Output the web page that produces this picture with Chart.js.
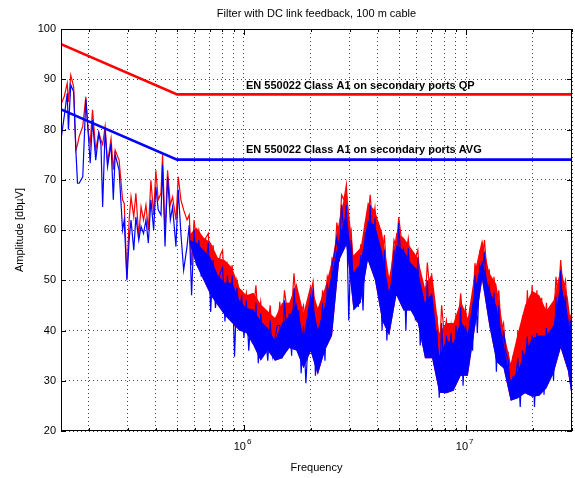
<!DOCTYPE html>
<html>
<head>
<meta charset="utf-8">
<script src="https://cdn.jsdelivr.net/npm/chart.js@4.4.1/dist/chart.umd.min.js"></script>
<style>
  html, body { margin: 0; padding: 0; background: #fff; }
  canvas { display: block; }
</style>
</head>
<body>
<canvas id="chartEmi" width="575" height="478"></canvas>
<script>
// emiChart - espectro conducido con límites EN 55022 (Chart.js)

// Frecuencias de barrido (kHz)
const freqKHz = [
  150, 155, 160, 162, 166, 171, 175, 178, 181, 188,
  194, 199, 203, 208, 215, 222, 227, 231, 237, 243,
  252, 258, 263, 274, 284, 289, 297, 304, 310, 319,
  326, 336, 344, 353, 362, 371, 381, 392, 401, 411,
  423, 430, 441, 453, 466, 477, 494, 506, 520, 535,
  554,
  567, 581, 596, 611, 626, 642, 658, 674, 691, 708,
  726, 744, 763, 782, 801, 821, 842, 863, 885, 907,
  929, 953, 976, 1000, 1025, 1051, 1077, 1104, 1132, 1160,
  1189, 1219, 1249, 1280, 1312, 1345, 1379, 1413, 1449, 1485,
  1522, 1560, 1599, 1639, 1680, 1722, 1765, 1809, 1854, 1900,
  1948, 1997, 2047, 2098, 2150, 2204, 2259, 2316, 2373, 2433,
  2493, 2556, 2620, 2685, 2752, 2821, 2892, 2964, 3038, 3114,
  3192, 3272, 3353, 3437, 3523, 3611, 3701, 3794, 3889, 3986,
  4086, 4188, 4292, 4400, 4510, 4622, 4738, 4856, 4978, 5102,
  5230, 5360, 5494, 5632, 5772, 5917, 6065, 6216, 6372, 6531,
  6694, 6862, 7033, 7209, 7389, 7574, 7763, 7957, 8156, 8360,
  8569, 8783, 9003, 9228, 9459, 9695, 9938, 10186, 10441, 10702,
  10969, 11244, 11525, 11813, 12108, 12411, 12721, 13039, 13365, 13699,
  14042, 14393, 14753, 15122, 15500, 15887, 16284, 16691, 17109, 17536,
  17975, 18424, 18885, 19357, 19841, 20337, 20845, 21367, 21901, 22448,
  23010, 23585, 24174, 24779, 25398, 26033, 26684, 27351, 28035, 28736,
  29454, 30000
];

// Nivel cuasi-pico (rojo), dBµV
const qpLevel = [
  85, 86.5, 89.2, 85.5, 90.8, 88.5, 75.9, 77, 78.6, 80.6,
  86.5, 79.5, 77.2, 83.9, 75.9, 79.5, 77.9, 77, 80.6, 73.3,
  78.2, 72, 75.9, 73.9, 66, 65.3, 50.7, 62, 66.6, 62.6,
  67.3, 58.7, 64.6, 62, 65, 60, 69.9, 63, 71.9, 66,
  67.3, 75, 59.3, 71.9, 65, 66.6, 62, 70.6, 66, 64,
  62,
  63, 53, 62, 58, 60, 56.7, 57, 58.5, 59.3, 49.7,
  57, 50.5, 52, 55, 56, 47.8, 53, 50, 53, 40.8,
  50, 48, 48, 44.5, 47.5, 43.4, 46.5, 43.7, 49, 42,
  45.7, 40, 42, 40, 45, 38, 42, 38, 45.7, 41,
  48, 44.4, 45, 44, 51.4, 45, 46.5, 43.7, 45, 37.5,
  42.7, 47, 49.7, 42, 42, 40.5, 48, 44.5, 50.7, 49,
  54.4, 53.7, 61.5, 58, 67, 66, 69, 58.5, 60, 51,
  54, 50, 57, 56.5, 61.5, 61.6, 67, 61, 64.4, 58,
  58.5, 55, 59, 49.5, 50, 52, 58, 56.5, 62.6, 58.5,
  58, 55, 58.3, 53, 53.7, 54.4, 56, 49.5, 49, 45,
  53.5, 48, 49, 39.5, 43, 34.5, 45, 39.7, 42, 36,
  41, 37, 43, 41.7, 47.4, 41.5, 44.5, 39, 44.5, 44,
  53.4, 50, 55.5, 53.7, 58, 51.5, 52, 45, 50.7, 44.4,
  48, 40, 41.5, 34.5, 35.5, 30, 35, 30.5, 40, 33,
  43, 35.5, 48, 37, 49, 37.5, 48, 37.5, 46.5, 38,
  45.5, 37.5, 44.7, 40.5, 50.7, 46.5, 54, 48, 50, 42.5,
  43, 37
];

// Nivel promedio (azul), dBµV
const avgLevel = [
  78, 82.5, 87.2, 80, 88.9, 87.5, 75.9, 69.3, 69.3, 70.6,
  86, 79.2, 73.3, 81.9, 73.9, 79.2, 77, 64.6, 80, 72.6,
  77.2, 66, 75, 71.9, 60, 62, 50, 58, 62, 56,
  62.6, 58, 60.7, 59.3, 62, 57.4, 66, 60, 68.6, 64,
  63, 73, 56.7, 70.6, 62, 64.6, 56.7, 68, 59.3, 52,
  56.7,
  61, 47, 60, 53, 58, 50.7, 55.5, 53, 57.5, 43.7,
  54, 44.5, 49.4, 51.5, 52.5, 41.8, 51, 44, 51, 34.8,
  48.5, 43, 47, 38.5, 46, 36, 43.5, 38.5, 45.5, 33.5,
  43.4, 38, 39, 34, 42, 35, 38.5, 41, 41, 34.5,
  46, 38, 43.4, 35, 48.4, 40, 44, 31.5, 41, 29.5,
  38.5, 37.8, 48.4, 31, 38.7, 38, 45.5, 34, 49.4, 40.8,
  53, 55, 58.5, 53.7, 65, 59, 65, 42, 58, 48,
  51.5, 44.7, 55, 44, 59.5, 56, 65, 52, 62.4, 50,
  55.5, 40, 56, 38, 48, 48, 56, 47, 61.4, 52.7,
  56.5, 40, 56.4, 48, 51.7, 42, 54.5, 37, 47, 36.5,
  50, 35, 46, 34.8, 40, 26.6, 41.5, 30.5, 39, 34.8,
  39.5, 29.5, 41, 34, 44.6, 29, 41, 36, 42, 36,
  51, 39.5, 53, 51.7, 55.5, 46, 49, 41.5, 47.5, 31.8,
  45, 33, 40, 35.6, 34, 27.2, 30.8, 30.2, 34.5, 24.8,
  36, 33, 38.8, 27.5, 39, 24.8, 39.5, 30, 38.5, 27.2,
  40.5, 35.5, 39, 30, 46.7, 35.5, 52, 42.5, 47, 32.5,
  42, 24.8
];

// Envolventes de la zona densa (kHz / dBµV)
const bandFreqKHz = [
  567, 611, 658, 708, 763, 821, 885, 953, 1025,
  1104, 1189, 1280, 1379, 1485, 1599, 1722, 1854, 1997,
  2150, 2316, 2493, 2685, 2892, 3114, 3353, 3611, 3889,
  4188, 4510, 4856, 5230, 5632, 6065, 6531, 7033, 7574,
  8156, 8783, 9459, 10186, 10969, 11813, 12721, 13699, 14753,
  15887, 17109, 18424, 19841, 21367, 23010, 24779, 26684, 28736,
  30000
];
const qpBandTop = [
  59, 60.5, 58.5, 57.5, 54.5, 54, 52.5, 48.5, 47,
  47.5, 45.2, 43.9, 42.5, 45.5, 45.5, 49.5, 43.5, 49.2,
  44.5, 48.5, 53.9, 62, 68.5, 55, 56.5, 65.5, 63.9,
  59.5, 50.5, 59.5, 58.5, 56.5, 54.5, 48.5, 51.5, 39.5,
  41.5, 41.5, 45.9, 42.5, 51.9, 58.2, 51.5, 49.2, 40,
  33.5, 39.5, 45, 47.9, 47, 44, 46, 52.5, 46.5,
  39.5
];
const avgBandTop = [
  58, 57.5, 56, 54.5, 51, 49.5, 49.5, 46, 44.5,
  44.2, 41.9, 40.5, 38, 41.5, 42.9, 45.5, 38.5, 47.5,
  40.2, 45, 51.5, 58.5, 63.5, 51.5, 53.5, 62, 61,
  55.5, 47.5, 57, 56, 53.5, 52, 45.5, 47.5, 35,
  38, 37.5, 42, 39.5, 48.5, 54, 48, 45, 37.5,
  30, 32, 35.5, 38.5, 39, 39, 41, 49.5, 43,
  37.5
];
const avgBandBottom = [
  57.5, 53, 50, 47, 45, 43, 41.5, 40, 39.5,
  37, 34, 36, 34, 34.5, 36.5, 36, 32.5, 35.8,
  31.2, 36, 39, 54, 57, 44, 45.5, 54, 50,
  42, 39, 47, 44, 44, 41.5, 34.5, 34.5, 27.6,
  27.5, 28, 31, 31, 40.5, 50, 41, 33.8, 32.5,
  26, 26.5, 27.5, 26.8, 27, 28.5, 31.5, 36.5, 32,
  26.5
];

// Límites EN 55022 clase A1
const limitFreqKHz = [150, 500, 30000];
const limitQP = [97, 87, 87];
const limitAVG = [84, 74, 74];

// Ejes
const yTickValues = [20, 30, 40, 50, 60, 70, 80, 90, 100];
const xGridKHz = [
  200, 300, 400, 500, 600, 700, 800, 900, 1000,
  2000, 3000, 4000, 5000, 6000, 7000, 8000, 9000, 10000,
  20000, 30000
];
const xLabelKHz = [1000, 10000];
const xLabelExp = ['6', '7'];

const titleText = 'Filter with DC link feedback, 100 m cable';
const xTitle = 'Frequency';
const yTitle = 'Amplitude [db\u00b5V]';
const qpLabel = 'EN 550022 Class A1 on secondary ports QP';
const avgLabel = 'EN 550022 Class A1 on secondary ports AVG';

const FONT = '"Liberation Sans", Arial, Helvetica, sans-serif';
const RED = '#ff0000';
const BLUE = '#0000ff';

function toPoints(fk, vals) {
  return fk.map((f, i) => ({ x: f * 1000, y: vals[i] }));
}

// Marco, textos y marcas tipo MATLAB
const matlabDecor = {
  id: 'matlabDecor',
  afterDraw(chart) {
    const ctx = chart.ctx;
    const area = chart.chartArea;
    const xs = chart.scales.x;
    const ys = chart.scales.y;
    ctx.save();

    // Marcas interiores
    ctx.strokeStyle = '#000';
    ctx.lineWidth = 1;
    ctx.beginPath();
    xGridKHz.forEach(f => {
      const px = Math.round(xs.getPixelForValue(f * 1000)) + 0.5;
      const len = xLabelKHz.includes(f) ? 6 : 3;
      ctx.moveTo(px, area.bottom); ctx.lineTo(px, area.bottom - len);
      ctx.moveTo(px, area.top); ctx.lineTo(px, area.top + len);
    });
    yTickValues.forEach(v => {
      const py = Math.round(ys.getPixelForValue(v)) + 0.5;
      ctx.moveTo(area.left, py); ctx.lineTo(area.left + 5, py);
      ctx.moveTo(area.right, py); ctx.lineTo(area.right - 5, py);
    });
    ctx.stroke();

    // Marco
    ctx.strokeRect(Math.round(area.left) + 0.5, Math.round(area.top) + 0.5,
      Math.round(area.right - area.left) - 1, Math.round(area.bottom - area.top) - 1);

    ctx.fillStyle = '#000';

    // Etiquetas del eje x (10^n)
    xLabelKHz.forEach((f, i) => {
      const px = xs.getPixelForValue(f * 1000);
      ctx.font = '11px ' + FONT;
      ctx.textAlign = 'right';
      ctx.textBaseline = 'alphabetic';
      ctx.fillText('10', px + 2, 450);
      ctx.font = '8px ' + FONT;
      ctx.textAlign = 'left';
      ctx.fillText(xLabelExp[i], px + 3, 444);
    });

    // Títulos
    ctx.font = '11px ' + FONT;
    ctx.textAlign = 'center';
    ctx.textBaseline = 'middle';
    const cx = (area.left + area.right) / 2;
    ctx.fillText(titleText, cx, 14);
    ctx.fillText(xTitle, cx, 468);

    ctx.save();
    ctx.translate(20, (area.top + area.bottom) / 2);
    ctx.rotate(-Math.PI / 2);
    ctx.fillText(yTitle, 0, 0);
    ctx.restore();

    // Textos de los límites
    ctx.font = 'bold 11px ' + FONT;
    ctx.textAlign = 'left';
    ctx.textBaseline = 'middle';
    const lx = xs.getPixelForValue(1000 * 1000) + 2;
    ctx.fillText(qpLabel, lx, ys.getPixelForValue(88.7));
    ctx.fillText(avgLabel, lx, ys.getPixelForValue(76.0));

    ctx.restore();
  }
};

// índice 0: borde inferior de la banda azul (destino del relleno)
const BAND_LOW = 0;

const canvas = document.getElementById('chartEmi');
new Chart(canvas.getContext('2d'), {
  type: 'line',
  data: {
    datasets: [
      {
        label: 'AVG band bottom',
        data: toPoints(bandFreqKHz, avgBandBottom),
        borderWidth: 0,
        borderColor: 'rgba(0,0,0,0)',
        fill: false,
        order: 9
      },
      {
        label: 'QP band',
        data: toPoints(bandFreqKHz, qpBandTop),
        borderWidth: 0,
        borderColor: 'rgba(0,0,0,0)',
        backgroundColor: RED,
        fill: { target: BAND_LOW, above: RED, below: RED },
        order: 5
      },
      {
        label: 'QP',
        data: toPoints(freqKHz, qpLevel),
        borderColor: RED,
        borderWidth: 1.2,
        fill: false,
        order: 4
      },
      {
        label: 'AVG band',
        data: toPoints(bandFreqKHz, avgBandTop),
        borderWidth: 0,
        borderColor: 'rgba(0,0,0,0)',
        backgroundColor: BLUE,
        fill: { target: BAND_LOW, above: BLUE, below: BLUE },
        order: 3
      },
      {
        label: 'AVG',
        data: toPoints(freqKHz, avgLevel),
        borderColor: BLUE,
        borderWidth: 1.2,
        fill: false,
        order: 2
      },
      {
        label: 'AVG limit',
        data: toPoints(limitFreqKHz, limitAVG),
        borderColor: BLUE,
        borderWidth: 2.6,
        fill: false,
        order: 1
      },
      {
        label: 'QP limit',
        data: toPoints(limitFreqKHz, limitQP),
        borderColor: RED,
        borderWidth: 2.6,
        fill: false,
        order: 0
      }
    ]
  },
  options: {
    responsive: false,
    animation: false,
    devicePixelRatio: 1,
    layout: { padding: { top: 29, right: 3, bottom: 0, left: 0 } },
    elements: {
      point: { radius: 0, hitRadius: 0 },
      line: { tension: 0, borderJoinStyle: 'miter' }
    },
    scales: {
      x: {
        type: 'logarithmic',
        min: 150000,
        max: 30000000,
        afterBuildTicks(scale) {
          scale.ticks = xGridKHz.map(f => ({ value: f * 1000 }));
        },
        afterFit(scale) { scale.height = 47; },
        ticks: { display: false, autoSkip: false },
        grid: { color: 'rgba(0,0,0,0.75)', lineWidth: 1, drawTicks: false },
        border: { display: false, dash: [1, 3] }
      },
      y: {
        type: 'linear',
        min: 20,
        max: 100,
        afterBuildTicks(scale) {
          scale.ticks = yTickValues.map(v => ({ value: v }));
        },
        afterFit(scale) { scale.width = 61; },
        ticks: {
          color: '#000',
          padding: 5,
          font: { family: FONT, size: 11 }
        },
        grid: { color: 'rgba(0,0,0,0.75)', lineWidth: 1, drawTicks: false },
        border: { display: false, dash: [1, 3] }
      }
    },
    plugins: {
      legend: { display: false },
      tooltip: { enabled: false },
      title: { display: false },
      filler: { propagate: false }
    }
  },
  plugins: [matlabDecor]
});
</script>
</body>
</html>
